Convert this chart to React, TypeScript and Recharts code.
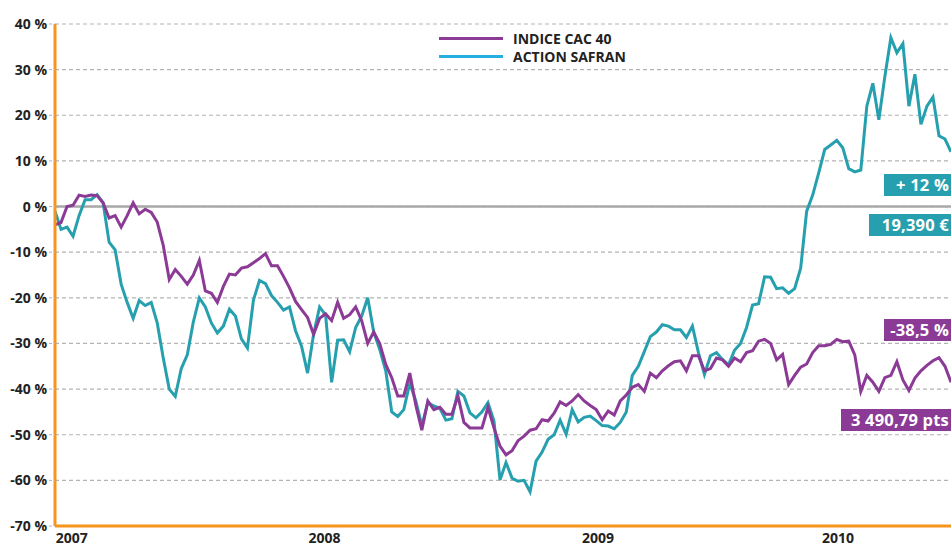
import { LineChart, Line, XAxis, YAxis, CartesianGrid, ReferenceLine } from "recharts"

// weekly-ish samples, % change since start of 2007
const cac40 = [
  -4, -3.5, 0, 0.3, 2.5, 2.2, 2.5, 2.4, 0.8, -2.5,
  -2, -4.5, -2, 0.8, -1.6, -0.6, -1.3, -3.4, -8.5, -16,
  -13.8, -15.3, -17, -15, -11.8, -18.5, -19, -21, -17.5, -14.8,
  -15, -13.5, -13.2, -12.3, -11.4, -10.3, -13, -13, -15.3, -17.8,
  -20.8, -22.6, -24.3, -28, -24.5, -23.5, -25, -21, -24.5, -23.7,
  -22, -25, -30, -27.5, -30, -34.6, -37.5, -41.5, -41.5, -36.5,
  -43.5, -49, -42.6, -44.5, -44, -45.5, -45.5, -41.5, -47.3, -48.5,
  -48.5, -48.5, -44, -48.5, -52.5, -54.4, -53.5, -51.3, -50.3, -49,
  -48.7, -46.7, -47, -45.3, -42.8, -43.6, -42.6, -41.2, -42.6, -43.6,
  -44.5, -46.7, -44.8, -45.7, -42.6, -41.3, -39.6, -39, -40.5, -36.5,
  -37.5, -36, -34.9, -34, -33.8, -36, -32.7, -32.7, -36, -35.5,
  -33.2, -33.6, -35, -33.2, -34, -32, -31.6, -29.5, -29.1, -30,
  -33.6, -32.4, -39, -37, -35.2, -34.5, -32, -30.5, -30.5, -30.2,
  -29.1, -29.6, -29.5, -32.5, -40.5, -37, -38.5, -40.5, -37.5, -37,
  -34, -38, -40.3, -37.6, -36, -34.8, -33.8, -33.1, -35, -38.5,
]

const safran = [
  -1, -5, -4.5, -6.5, -2, 1.5, 1.5, 2.6, 0.8, -7.8,
  -9.5, -17, -21, -24.5, -20.6, -21.7, -21, -25.5, -33.2, -40,
  -41.6, -35.5, -32.5, -25.3, -20, -22, -25.5, -27.7, -26.2, -22.5,
  -24, -29, -31, -20.5, -16.2, -16.9, -19.5, -21, -22.7, -22,
  -27.2, -30.6, -36.5, -28, -22, -23.8, -38.5, -29.3, -29.2, -31.8,
  -26.5, -24, -20, -27.5, -31.3, -36, -45, -46, -44.5, -38.7,
  -42.6, -48, -43, -43.7, -44.2, -46.8, -46.5, -40.5, -41.5, -45.2,
  -46.3, -45, -43, -47, -59.9, -56.1, -59.5, -60.2, -60, -62.5,
  -55.8, -53.8, -51, -50, -46.8, -49.9, -44.5, -47.2, -46.2, -45.9,
  -46.9, -48, -48.1, -48.7, -47.3, -45, -37, -35, -31.8, -28.5,
  -27.5, -25.9, -26.2, -27, -27, -28.7, -26.2, -32, -36.8, -32.7,
  -32, -33.5, -34.7, -31.5, -30, -26.5, -21.6, -21.3, -15.4, -15.5,
  -18, -17.8, -19, -18, -13.5, -1, 2.5, 7.4, 12.5, 13.5,
  14.5, 12.9, 8.3, 7.6, 8, 22, 27, 19, 28.5, 37,
  33.7, 35.7, 22, 29, 18, 22, 24, 15.5, 14.8, 12,
]

const yTicks = [40, 30, 20, 10, 0, -10, -20, -30, -40, -50, -60, -70]
const yearTicks = [2.8, 44.8, 90.3, 130.2]
const yearLabels = ["2007", "2008", "2009", "2010"]

const seriesNames = ["INDICE CAC 40", "ACTION SAFRAN"]
const endLabels = ["+ 12 %", "19,390 €", "-38,5 %", "3 490,79 pts"]

const data = cac40.map((v, i) => ({ i, cac: v, safran: safran[i] }))

const ORANGE = "#f7941d"
const PURPLE = "#8b3a96"
const TEAL = "#26a0ae"
const GRID = "#b3b3b3"

const boxStyle = (top: number, left: number, bg: string): React.CSSProperties => ({
  position: "absolute",
  top,
  left,
  right: 0,
  height: 22,
  lineHeight: "22px",
  background: bg,
  color: "#fff",
  fontWeight: 700,
  fontSize: 16.5,
  textAlign: "right",
  paddingRight: 2,
  whiteSpace: "nowrap",
  letterSpacing: 0.2,
})

export default function App() {
  return (
    <div
      style={{
        position: "absolute",
        left: 0,
        top: 0,
        width: 951,
        height: 547,
        background: "#fff",
        fontFamily: "'Open Sans', sans-serif",
        overflow: "hidden",
      }}
    >
      <LineChart width={951} height={547} data={data} margin={{ top: 24, right: 0, bottom: 0, left: 0 }}>
        <CartesianGrid vertical={false} stroke={GRID} strokeDasharray="4 3" strokeWidth={1.2} />
        <XAxis
          type="number"
          dataKey="i"
          domain={[0, cac40.length - 1]}
          ticks={yearTicks}
          tickFormatter={(_v, idx) => yearLabels[idx]}
          axisLine={{ stroke: ORANGE, strokeWidth: 3 }}
          tickLine={false}
          tick={{ fontSize: 14, fontWeight: 700, fill: "#222" }}
          tickMargin={1}
          height={21}
          interval={0}
        />
        <YAxis
          type="number"
          domain={[-70, 40]}
          ticks={yTicks}
          interval={0}
          tickFormatter={(v) => `${v} %`}
          axisLine={{ stroke: ORANGE, strokeWidth: 3 }}
          tickLine={{ stroke: GRID, strokeDasharray: "3 2" }}
          tick={{ fontSize: 14, fontWeight: 700, fill: "#222" }}
          width={55}
        />
        <ReferenceLine y={0} stroke="#a8a8a8" strokeWidth={2.5} />
        <Line
          type="linear"
          dataKey="safran"
          stroke={TEAL}
          strokeWidth={3}
          dot={false}
          isAnimationActive={false}
        />
        <Line
          type="linear"
          dataKey="cac"
          stroke={PURPLE}
          strokeWidth={3}
          dot={false}
          isAnimationActive={false}
        />
      </LineChart>

      {/* legend */}
      <div style={{ position: "absolute", left: 439, top: 29, fontSize: 14, fontWeight: 700, color: "#222" }}>
        {seriesNames.map((name, idx) => (
          <div key={name} style={{ display: "flex", alignItems: "center", height: 18 }}>
            <div style={{ width: 64, height: 3, background: idx === 0 ? PURPLE : "#25aee0", marginRight: 10 }} />
            <span>{name}</span>
          </div>
        ))}
      </div>

      {/* end-of-series labels */}
      <div style={boxStyle(174, 884, TEAL)}>{endLabels[0]}</div>
      <div style={boxStyle(214, 869, TEAL)}>{endLabels[1]}</div>
      <div style={boxStyle(319, 884, PURPLE)}>{endLabels[2]}</div>
      <div style={boxStyle(409, 841, PURPLE)}>{endLabels[3]}</div>
    </div>
  )
}
